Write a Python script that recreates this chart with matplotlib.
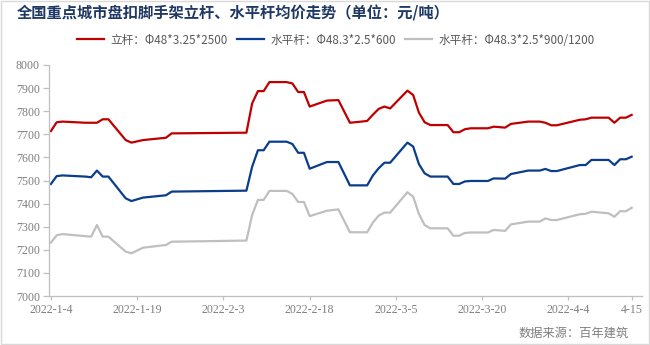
import matplotlib
matplotlib.use("Agg")
import matplotlib.pyplot as plt
import pandas as pd
from matplotlib.patches import Rectangle

dates = ["2022-01-04","2022-01-05","2022-01-06","2022-01-10","2022-01-11","2022-01-12","2022-01-13","2022-01-14",
         "2022-01-17","2022-01-18","2022-01-20","2022-01-24","2022-01-25","2022-02-07","2022-02-08","2022-02-09",
         "2022-02-10","2022-02-11","2022-02-14","2022-02-15","2022-02-16","2022-02-17","2022-02-18","2022-02-21",
         "2022-02-23","2022-02-25","2022-02-27","2022-02-28","2022-03-01","2022-03-02","2022-03-03","2022-03-04",
         "2022-03-07","2022-03-08","2022-03-09","2022-03-10","2022-03-11","2022-03-14","2022-03-15","2022-03-16",
         "2022-03-17","2022-03-18","2022-03-21","2022-03-22","2022-03-24","2022-03-25","2022-03-28","2022-03-30",
         "2022-03-31","2022-04-01","2022-04-02","2022-04-06","2022-04-07","2022-04-08","2022-04-11","2022-04-12",
         "2022-04-13","2022-04-14","2022-04-15"]

upright = [7714,7752,7755,7750,7750,7750,7765,7765,7675,7664,7675,7685,7704,7707,7834,7887,
           7887,7926,7926,7920,7883,7883,7820,7846,7848,7750,7755,7758,7785,7810,7820,7812,
           7889,7870,7794,7752,7740,7740,7709,7709,7722,7726,7726,7733,7729,7745,7755,7755,
           7750,7739,7739,7763,7765,7772,7772,7750,7772,7772,7784]

ledger600 = [7485,7519,7522,7517,7514,7543,7517,7517,7423,7411,7426,7436,7452,7456,7560,7631,
             7631,7668,7668,7658,7620,7620,7551,7580,7580,7479,7479,7479,7522,7553,7577,7577,
             7664,7647,7571,7531,7517,7517,7485,7485,7496,7498,7498,7509,7508,7528,7543,7543,
             7550,7541,7541,7567,7567,7589,7589,7567,7592,7592,7603]

ledger900 = [7231,7263,7268,7259,7257,7307,7257,7257,7192,7185,7209,7221,7235,7240,7351,7416,
             7416,7455,7455,7442,7407,7407,7346,7369,7375,7276,7276,7276,7318,7348,7361,7361,
             7449,7430,7355,7307,7293,7293,7261,7261,7273,7275,7275,7286,7282,7310,7322,7322,
             7336,7329,7329,7354,7356,7365,7358,7343,7367,7367,7382]

series_names = ["立杆：Φ48*3.25*2500", "水平杆：Φ48.3*2.5*600", "水平杆：Φ48.3*2.5*900/1200"]
colors = ["#C00000", "#0A3D8C", "#BFBFBF"]

tick_dates = ["2022-01-04","2022-01-19","2022-02-03","2022-02-18","2022-03-05","2022-03-20","2022-04-04","2022-04-15"]
tick_labels = ["2022-1-4","2022-1-19","2022-2-3","2022-2-18","2022-3-5","2022-3-20","2022-4-4","4-15"]
y_ticks = [7000,7100,7200,7300,7400,7500,7600,7700,7800,7900,8000]

title = "全国重点城市盘扣脚手架立杆、水平杆均价走势（单位：元/吨）"
source = "数据来源：百年建筑"

cjk = ["Noto Sans CJK SC", "DejaVu Sans"]
serif = ["Liberation Serif", "DejaVu Serif"]

fig = plt.figure(figsize=(6.5, 3.45), dpi=100)
fig.patches.append(Rectangle((0.001, 0.002), 0.997, 0.995, transform=fig.transFigure,
                             fill=False, edgecolor="#D9D9D9", linewidth=1.0))

ax = fig.add_axes([0.0754, 0.142, 0.9123, 0.6696])
x = pd.to_datetime(dates)
for vals, c, name in zip([upright, ledger600, ledger900], colors, series_names):
    ax.plot(x, vals, color=c, linewidth=1.6, label=name, solid_joinstyle="round")

start = pd.Timestamp("2022-01-04")
ax.set_xlim(start - pd.Timedelta(hours=8), start + pd.Timedelta(days=102.8))
ax.set_ylim(7000, 8000)
ax.set_yticks(y_ticks)
ax.set_yticklabels([str(v) for v in y_ticks], family=serif, fontsize=8.6, color="#7F7F7F")
ax.set_xticks(pd.to_datetime(tick_dates))
ax.set_xticklabels(tick_labels, family=serif, fontsize=8.6, color="#7F7F7F")

for s in ["top", "right"]:
    ax.spines[s].set_visible(False)
for s in ["left", "bottom"]:
    ax.spines[s].set_color("#BFBFBF")
    ax.spines[s].set_linewidth(0.9)
ax.tick_params(axis="both", direction="out", width=0.9, color="#BFBFBF")
ax.tick_params(axis="x", length=3, pad=3)
ax.tick_params(axis="y", length=4.5, pad=2)

fig.text(0.0257, 0.962, title, family=cjk, fontsize=11, fontweight="bold",
         color="#1F3864", ha="left", va="center")

leg = fig.legend(loc="center left", bbox_to_anchor=(77 / 650, 0.884), ncol=3, frameon=False,
                 prop={"family": cjk, "size": 8.4}, handlelength=2.3, columnspacing=0.8,
                 handletextpad=0.55, borderpad=0, borderaxespad=0)
for t in leg.get_texts():
    t.set_color("#595959")

fig.text(0.968, 0.035, source, family=cjk, fontsize=8.8, color="#7F7F7F",
         ha="right", va="center")

fig.savefig("out.png", dpi=100)
